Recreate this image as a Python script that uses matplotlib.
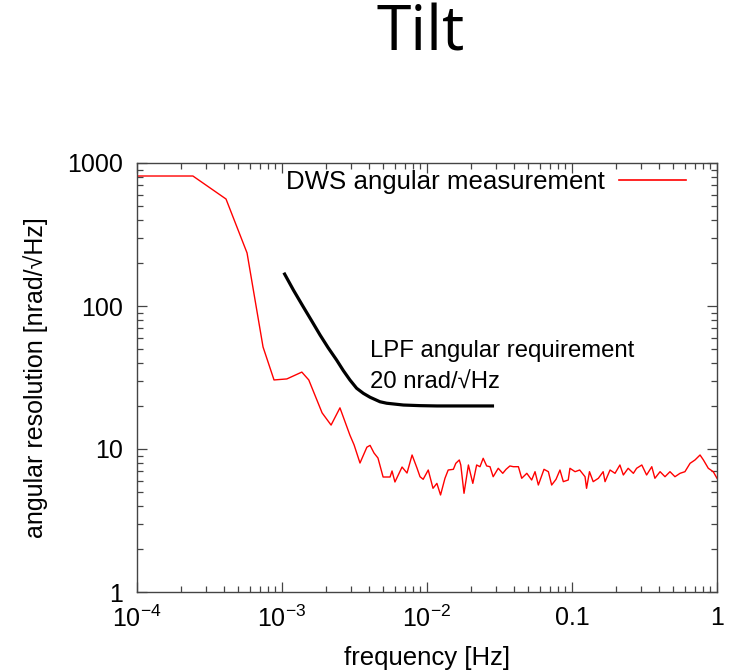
import matplotlib
matplotlib.use("Agg")
import matplotlib.pyplot as plt
from matplotlib.ticker import FixedLocator, FixedFormatter, LogLocator, NullFormatter
from matplotlib.lines import Line2D

plt.rcParams["font.family"] = ["Liberation Sans", "DejaVu Sans"]
plt.rcParams["axes.unicode_minus"] = False

dws_freq = [
    1.0e-4, 2.43e-4, 4.11e-4, 5.74e-4, 7.40e-4, 8.81e-4, 1.08e-3, 1.37e-3, 1.53e-3,
    1.89e-3, 2.18e-3, 2.51e-3, 2.94e-3, 3.14e-3, 3.45e-3, 3.85e-3, 4.05e-3, 4.31e-3,
    4.59e-3, 4.98e-3, 5.56e-3, 5.74e-3, 6.01e-3, 6.73e-3, 7.28e-3, 7.89e-3, 8.53e-3,
    8.95e-3, 9.41e-3, 1.02e-2, 1.10e-2, 1.17e-2, 1.24e-2, 1.33e-2, 1.40e-2, 1.52e-2,
    1.58e-2, 1.67e-2, 1.71e-2, 1.80e-2, 1.93e-2, 2.07e-2, 2.20e-2, 2.32e-2, 2.44e-2,
    2.58e-2, 2.72e-2, 2.86e-2, 3.10e-2, 3.33e-2, 3.51e-2, 3.73e-2, 3.94e-2, 4.27e-2,
    4.50e-2, 4.88e-2, 5.27e-2, 5.56e-2, 5.86e-2, 6.41e-2, 6.87e-2, 7.24e-2, 7.76e-2,
    8.26e-2, 8.71e-2, 9.42e-2, 9.68e-2, 0.105, 0.113, 0.123, 0.126, 0.132, 0.140,
    0.152, 0.164, 0.169, 0.183, 0.198, 0.214, 0.226, 0.244, 0.265, 0.279, 0.303,
    0.327, 0.355, 0.373, 0.405, 0.438, 0.474, 0.513, 0.556, 0.601, 0.652, 0.705,
    0.764, 0.806, 0.871, 0.942, 1.0,
]
dws_value = [
    811, 811, 560, 235, 51.7, 30.4, 30.9, 34.5, 30.4,
    17.9, 14.7, 19.4, 12.5, 10.7, 7.98, 10.3, 10.6, 9.38,
    8.65, 6.37, 6.37, 7.02, 5.88, 7.48, 6.79, 9.08, 7.36,
    6.40, 6.14, 7.13, 5.31, 5.75, 4.77, 6.24, 7.13, 7.21,
    7.94, 8.38, 7.73, 4.90, 7.73, 5.75, 7.73, 7.52, 8.61,
    7.61, 7.52, 6.40, 7.33, 6.76, 7.21, 7.61, 7.52, 7.52,
    6.24, 6.76, 6.07, 6.94, 5.60, 7.21, 6.94, 5.60, 6.14,
    7.13, 5.91, 6.07, 7.33, 6.94, 7.13, 6.40, 5.31, 6.94, 5.91,
    6.24, 6.94, 5.91, 7.13, 6.76, 7.73, 6.58, 7.33, 6.76, 7.33, 7.73,
    6.58, 7.52, 6.24, 6.94, 6.40, 6.94, 6.40, 6.76, 6.94, 7.94, 8.38,
    9.08, 8.38, 7.33, 6.94, 6.24,
]

# LPF angular requirement curve
lpf_freq = [1.03e-3, 1.20e-3, 1.40e-3, 1.60e-3, 1.83e-3, 2.08e-3, 2.38e-3, 2.65e-3,
            2.94e-3, 3.27e-3, 3.64e-3, 4.05e-3, 4.74e-3, 5.27e-3, 6.87e-3, 8.95e-3,
            1.17e-2, 2.90e-2]
lpf_value = [171, 129, 98.9, 78.9, 62.7, 51.1, 41.9, 35.3,
             30.4, 26.6, 24.5, 23.0, 21.4, 20.9, 20.3, 20.1,
             20.0, 20.0]

x_tick_values = [1e-4, 1e-3, 1e-2, 0.1, 1]
x_tick_labels = [r"$\mathregular{10^{-4}}$", r"$\mathregular{10^{-3}}$",
                 r"$\mathregular{10^{-2}}$", "0.1", "1"]
y_tick_values = [1, 10, 100, 1000]
y_tick_labels = ["1", "10", "100", "1000"]

fig = plt.figure(figsize=(7.29, 6.71), dpi=100)
ax = fig.add_axes([137 / 729, 1 - 592 / 671, 580 / 729, 429 / 671])

ax.plot(dws_freq, dws_value, color="#ff0000", lw=1.0)
ax.plot(lpf_freq, lpf_value, color="black", lw=2.3, solid_capstyle="butt")

ax.set_xscale("log")
ax.set_yscale("log")
ax.set_xlim(1e-4, 1)
ax.set_ylim(1, 1000)

ax.xaxis.set_major_locator(FixedLocator(x_tick_values))
ax.xaxis.set_major_formatter(FixedFormatter(x_tick_labels))
ax.yaxis.set_major_locator(FixedLocator(y_tick_values))
ax.yaxis.set_major_formatter(FixedFormatter(y_tick_labels))
for axis in (ax.xaxis, ax.yaxis):
    axis.set_minor_locator(LogLocator(base=10, subs=range(2, 10), numticks=20))
    axis.set_minor_formatter(NullFormatter())

ax.tick_params(which="both", direction="in", top=True, right=True,
               color="#444444", width=0.9, labelsize=18)
ax.tick_params(which="major", length=7)
ax.tick_params(which="minor", length=4.5)
ax.tick_params(axis="y", pad=10)
ax.tick_params(axis="x", pad=10)
for sp in ax.spines.values():
    sp.set_color("#444444")
    sp.set_linewidth(1.0)

ax.set_xlabel("frequency [Hz]", fontsize=18.5, labelpad=10)
ax.set_ylabel("angular resolution [nrad/\u221aHz]", fontsize=18, labelpad=14)

handle = Line2D([0], [0], color="#ff0000", lw=1.2)
ax.legend([handle], ["DWS angular measurement"], loc="center right",
          bbox_to_anchor=(0.9466, 0.9557), frameon=False, markerfirst=False,
          fontsize=18.6, handlelength=2.6, handletextpad=0.55,
          borderpad=0, borderaxespad=0)

ax.text(0.4017, 0.5485, "LPF angular requirement", transform=ax.transAxes,
        fontsize=17.2, ha="left", va="baseline")
ax.text(0.4017, 0.4739, "20 nrad/\u221aHz", transform=ax.transAxes,
        fontsize=17.2, ha="left", va="baseline")

fig.text(421 / 729, 1 - 34 / 671, "Tilt", fontsize=45, ha="center", va="center",
         family=["Open Sans", "DejaVu Sans"])

fig.savefig("out.png", dpi=100)
